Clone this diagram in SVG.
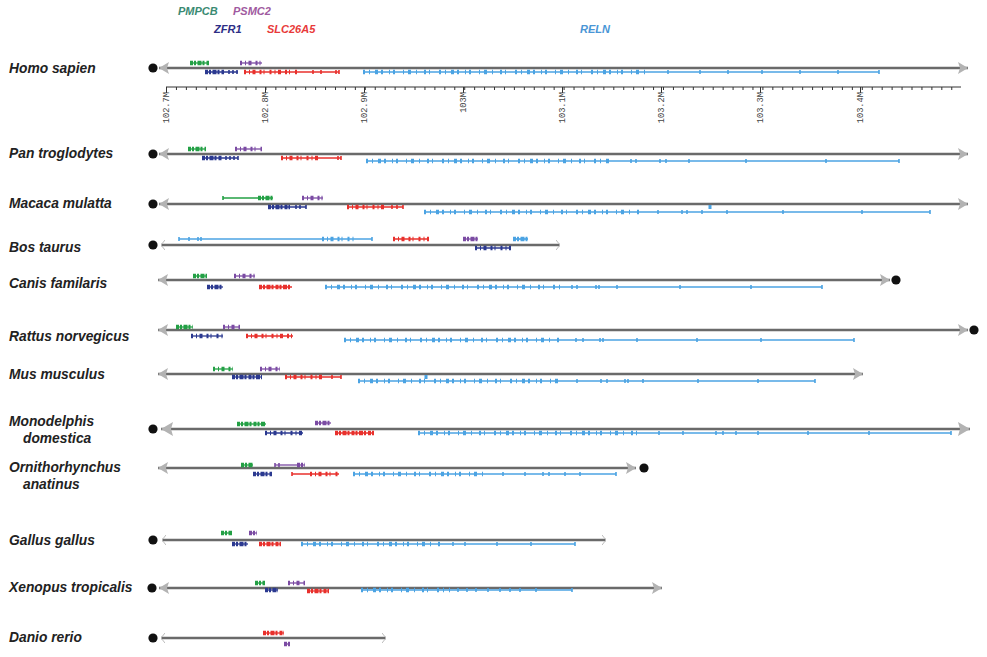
<svg xmlns="http://www.w3.org/2000/svg" width="987" height="657" viewBox="0 0 987 657">
<defs>
<marker id="ah" viewBox="0 0 10 12" refX="10" refY="6" markerWidth="10" markerHeight="12" markerUnits="userSpaceOnUse" orient="auto-start-reverse"><path d="M0,0 L10,6 L0,12 L2,6 Z" fill="#b3b3b3"/></marker>
<marker id="ahl" viewBox="0 0 12 14" refX="12" refY="7" markerWidth="12" markerHeight="14" markerUnits="userSpaceOnUse" orient="auto-start-reverse"><path d="M0,0 L12,7 L0,14 L2,7 Z" fill="#b3b3b3"/></marker>
<marker id="th" viewBox="0 0 4 10" refX="4" refY="5" markerWidth="4" markerHeight="10" markerUnits="userSpaceOnUse" orient="auto-start-reverse"><path d="M0,0 L4,5 L0,10" fill="none" stroke="#bbbbbb" stroke-width="1"/></marker>
<style>
.lab{font:italic bold 13.8px "Liberation Sans",Arial,sans-serif;fill:#222}
.leg{font:italic bold 11px "Liberation Sans",Arial,sans-serif}
.ax{font:8.7px "Liberation Mono","Courier New",monospace;fill:#444}
.chr{stroke:#6a6a6a;stroke-width:2.4;fill:none;marker-start:url(#ah);marker-end:url(#ah)}
.chl{stroke:#6a6a6a;stroke-width:2.6;fill:none;marker-start:url(#ahl);marker-end:url(#ahl)}
.cht{stroke:#6a6a6a;stroke-width:2.4;fill:none;marker-start:url(#th);marker-end:url(#th)}
.dot{fill:#111}
.in{stroke-width:1.3;fill:none}
.ex{stroke-width:4.4;fill:none}
.tk{stroke-width:1.6;fill:none}
.G{stroke:#23a045}.P{stroke:#7b4ba3}.N{stroke:#2b3990}.R{stroke:#e8302c}.B{stroke:#4ba3e3}
.in.B{stroke-width:1.7}
.pa{stroke-dasharray:3 1 2 1.5 4 1 2 2}
.pb{stroke-dasharray:2 3 1 2.5 3 4 2 2 1 5}
.pc{stroke-dasharray:2 4 1 5 3 3 2 6 1 3 2 8 1 4 3 5 1 7 2 3 1 9}
</style>
</defs>
<rect width="987" height="657" fill="#fff"/>

<g id="legend">
<text class="leg" x="178" y="15" fill="#3a8a72">PMPCB</text>
<text class="leg" x="233" y="15" fill="#a05aa0">PSMC2</text>
<text class="leg" x="214" y="33" fill="#2e2e86">ZFR1</text>
<text class="leg" x="267" y="33" fill="#e83a3a">SLC26A5</text>
<text class="leg" x="580" y="33" fill="#4a96d6">RELN</text>
</g>

<g id="axis">
<line x1="166" y1="87" x2="961" y2="87" stroke="#333" stroke-width="1"/>
<line x1="166" y1="88.5" x2="961" y2="88.5" stroke="#333" stroke-width="3" stroke-dasharray="1 8.94"/>
<path d="M166.5 87v6M265.5 87v6M364.5 87v6M463.5 87v6M562.5 87v6M661.5 87v6M760.5 87v6M860.5 87v6" stroke="#333" stroke-width="1"/>
<text class="ax" text-anchor="end" transform="translate(169,92) rotate(-90)">102.7M</text>
<text class="ax" text-anchor="end" transform="translate(268,92) rotate(-90)">102.8M</text>
<text class="ax" text-anchor="end" transform="translate(367,92) rotate(-90)">102.9M</text>
<text class="ax" text-anchor="end" transform="translate(466,92) rotate(-90)">103M</text>
<text class="ax" text-anchor="end" transform="translate(565,92) rotate(-90)">103.1M</text>
<text class="ax" text-anchor="end" transform="translate(664,92) rotate(-90)">103.2M</text>
<text class="ax" text-anchor="end" transform="translate(763,92) rotate(-90)">103.3M</text>
<text class="ax" text-anchor="end" transform="translate(863,92) rotate(-90)">103.4M</text>
</g>

<g id="homo">
<text class="lab" x="9" y="73">Homo sapien</text>
<circle class="dot" cx="153" cy="68" r="4.6"/>
<line class="chr" x1="159" y1="68" x2="968" y2="68"/>
<line class="in G" x1="190" y1="63" x2="209" y2="63"/><line class="ex G pa" x1="190" y1="63" x2="209" y2="63"/>
<line class="in P" x1="240" y1="63" x2="262" y2="63"/><line class="ex P pb" x1="240" y1="63" x2="262" y2="63"/>
<line class="in N" x1="205" y1="72" x2="238" y2="72"/><line class="ex N pa" x1="205" y1="72" x2="224" y2="72"/><path class="tk N" d="M229 70v4M233 70v4M237 70v4"/>
<line class="in R" x1="244" y1="72" x2="339" y2="72"/><line class="ex R pb" x1="244" y1="72" x2="300" y2="72"/><path class="tk R" d="M313 70v4M321 70v4M336 70v4M339 70v4"/>
<line class="in B" x1="363" y1="72" x2="879" y2="72"/><line class="ex B pc" x1="363" y1="72" x2="650" y2="72"/><path class="tk B" d="M668 70v4M700 70v4M728 70v4M762 70v4M800 70v4M838 70v4M879 70v4"/>
</g>

<g id="pan">
<text class="lab" x="9" y="158">Pan troglodytes</text>
<circle class="dot" cx="153" cy="154" r="4.6"/>
<line class="chr" x1="159" y1="154" x2="968" y2="154"/>
<line class="in G" x1="188" y1="149" x2="206" y2="149"/><line class="ex G pa" x1="188" y1="149" x2="206" y2="149"/>
<line class="in P" x1="235" y1="149" x2="262" y2="149"/><line class="ex P pb" x1="235" y1="149" x2="262" y2="149"/>
<line class="in N" x1="202" y1="158" x2="238" y2="158"/><line class="ex N pa" x1="202" y1="158" x2="222" y2="158"/><path class="tk N" d="M226 156v4M230 156v4M234 156v4M238 156v4"/>
<line class="in R" x1="281" y1="158" x2="341" y2="158"/><line class="ex R pb" x1="281" y1="158" x2="320" y2="158"/><path class="tk R" d="M338 156v4M341 156v4"/>
<line class="in B" x1="366" y1="161" x2="899" y2="161"/><line class="ex B pc" x1="366" y1="161" x2="610" y2="161"/><path class="tk B" d="M631 159v4M636 159v4M660 159v4M666 159v4M689 159v4M746 159v4M826 159v4M899 159v4"/>
</g>

<g id="macaca">
<text class="lab" x="9" y="208">Macaca mulatta</text>
<circle class="dot" cx="153" cy="204" r="4.6"/>
<line class="chr" x1="159" y1="204" x2="968" y2="204"/>
<line class="in G" x1="223" y1="198" x2="273" y2="198"/><path class="tk G" d="M223 196v4"/><line class="ex G pa" x1="258" y1="198" x2="273" y2="198"/>
<line class="in P" x1="302" y1="198" x2="323" y2="198"/><line class="ex P pb" x1="302" y1="198" x2="323" y2="198"/>
<line class="in N" x1="268" y1="207" x2="306" y2="207"/><line class="ex N pa" x1="268" y1="207" x2="290" y2="207"/><path class="tk N" d="M296 205v4M300 205v4M306 205v4"/>
<line class="in R" x1="347" y1="207" x2="403" y2="207"/><line class="ex R pb" x1="347" y1="207" x2="385" y2="207"/><path class="tk R" d="M392 205v4M397 205v4M403 205v4"/>
<line class="in B" x1="424" y1="212" x2="930" y2="212"/><line class="ex B pc" x1="424" y1="212" x2="640" y2="212"/><path class="tk B" d="M658 210v4M682 210v4M687 210v4M702 210v4M727 210v4M783 210v4M862 210v4M930 210v4"/>
<rect x="708.5" y="205" width="3" height="4" fill="#4ba3e3"/>
</g>

<g id="bos">
<text class="lab" x="9" y="252">Bos taurus</text>
<circle class="dot" cx="153" cy="245" r="4.6"/>
<line class="cht" x1="161" y1="245" x2="560" y2="245"/>
<line class="in B" x1="179" y1="239" x2="372" y2="239"/><path class="tk B" d="M179 237v4M189 237v4M198 237v4M201 237v4M372 237v4"/><line class="ex B pb" x1="322" y1="239" x2="356" y2="239"/>
<line class="in R" x1="393" y1="239" x2="429" y2="239"/><line class="ex R pb" x1="393" y1="239" x2="429" y2="239"/>
<line class="in P" x1="463" y1="239" x2="478" y2="239"/><line class="ex P pa" x1="463" y1="239" x2="478" y2="239"/>
<line class="in B" x1="513" y1="239" x2="528" y2="239"/><line class="ex B pa" x1="513" y1="239" x2="528" y2="239"/>
<line class="in N" x1="475" y1="248" x2="511" y2="248"/><line class="ex N pb" x1="475" y1="248" x2="511" y2="248"/>
</g>

<g id="canis">
<text class="lab" x="9" y="288">Canis familaris</text>
<circle class="dot" cx="896" cy="280" r="4.6"/>
<line class="chr" x1="158" y1="280" x2="890" y2="280"/>
<line class="in G" x1="193" y1="276" x2="207" y2="276"/><line class="ex G pa" x1="193" y1="276" x2="207" y2="276"/>
<line class="in P" x1="234" y1="276" x2="255" y2="276"/><line class="ex P pb" x1="234" y1="276" x2="255" y2="276"/>
<line class="in N" x1="207" y1="287" x2="223" y2="287"/><line class="ex N pa" x1="207" y1="287" x2="223" y2="287"/>
<line class="in R" x1="259" y1="287" x2="292" y2="287"/><line class="ex R pa" x1="259" y1="287" x2="292" y2="287"/>
<line class="in B" x1="325" y1="287" x2="822" y2="287"/><line class="ex B pc" x1="325" y1="287" x2="560" y2="287"/><path class="tk B" d="M572 285v4M577 285v4M596 285v4M599 285v4M617 285v4M680 285v4M751 285v4M822 285v4"/>
</g>

<g id="rattus">
<text class="lab" x="9" y="341">Rattus norvegicus</text>
<circle class="dot" cx="974" cy="330" r="4.6"/>
<line class="chr" x1="158" y1="330" x2="968" y2="330"/>
<line class="in G" x1="176" y1="327" x2="193" y2="327"/><line class="ex G pa" x1="176" y1="327" x2="193" y2="327"/>
<line class="in P" x1="223" y1="327" x2="240" y2="327"/><line class="ex P pb" x1="223" y1="327" x2="240" y2="327"/>
<line class="in N" x1="191" y1="336" x2="223" y2="336"/><line class="ex N pb" x1="191" y1="336" x2="223" y2="336"/>
<line class="in R" x1="246" y1="336" x2="293" y2="336"/><line class="ex R pb" x1="246" y1="336" x2="293" y2="336"/>
<line class="in B" x1="344" y1="340" x2="854" y2="340"/><line class="ex B pc" x1="344" y1="340" x2="560" y2="340"/><path class="tk B" d="M576 338v4M583 338v4M600 338v4M603 338v4M637 338v4M697 338v4M761 338v4M854 338v4"/>
</g>

<g id="mus">
<text class="lab" x="9" y="379">Mus musculus</text>
<line class="chr" x1="158" y1="374" x2="863" y2="374"/>
<line class="in G" x1="213" y1="369" x2="233" y2="369"/><line class="ex G pb" x1="213" y1="369" x2="233" y2="369"/>
<line class="in P" x1="260" y1="369" x2="280" y2="369"/><line class="ex P pb" x1="260" y1="369" x2="280" y2="369"/>
<line class="in N" x1="232" y1="377" x2="262" y2="377"/><line class="ex N pa" x1="232" y1="377" x2="262" y2="377"/>
<line class="in R" x1="285" y1="377" x2="341" y2="377"/><line class="ex R pb" x1="285" y1="377" x2="325" y2="377"/><path class="tk R" d="M332 375v4M341 375v4"/>
<line class="in B" x1="358" y1="381" x2="815" y2="381"/><line class="ex B pc" x1="358" y1="381" x2="560" y2="381"/><path class="tk B" d="M577 379v4M601 379v4M607 379v4M625 379v4M628 379v4M643 379v4M698 379v4M758 379v4M815 379v4"/>
<rect x="424.5" y="375" width="3" height="4" fill="#4ba3e3"/>
</g>

<g id="monodelphis">
<text class="lab" x="9" y="426">Monodelphis</text>
<text class="lab" x="23" y="443">domestica</text>
<circle class="dot" cx="153" cy="429" r="4.6"/>
<line class="chl" x1="161" y1="429" x2="970" y2="429"/>
<line class="in G" x1="237" y1="424" x2="266" y2="424"/><line class="ex G pa" x1="237" y1="424" x2="266" y2="424"/>
<line class="in P" x1="315" y1="423" x2="331" y2="423"/><line class="ex P pa" x1="315" y1="423" x2="331" y2="423"/>
<line class="in N" x1="265" y1="433" x2="303" y2="433"/><line class="ex N pb" x1="265" y1="433" x2="303" y2="433"/>
<line class="in R" x1="335" y1="433" x2="374" y2="433"/><line class="ex R pa" x1="335" y1="433" x2="374" y2="433"/>
<line class="in B" x1="418" y1="433" x2="951" y2="433"/><line class="ex B pc" x1="418" y1="433" x2="640" y2="433"/><path class="tk B" d="M659 431v4M683 431v4M716 431v4M723 431v4M736 431v4M758 431v4M808 431v4M869 431v4M951 431v4"/>
</g>

<g id="ornithorhynchus">
<text class="lab" x="9" y="472">Ornithorhynchus</text>
<text class="lab" x="23" y="489">anatinus</text>
<circle class="dot" cx="644" cy="468" r="4.6"/>
<line class="chr" x1="158" y1="468" x2="636" y2="468"/>
<line class="in G" x1="241" y1="465" x2="253" y2="465"/><line class="ex G pa" x1="241" y1="465" x2="253" y2="465"/>
<line class="in P" x1="275" y1="465" x2="305" y2="465"/><path class="tk P" d="M275 463v4M279 463v4"/><line class="ex P pa" x1="297" y1="465" x2="305" y2="465"/>
<line class="in N" x1="253" y1="474" x2="272" y2="474"/><line class="ex N pa" x1="253" y1="474" x2="272" y2="474"/>
<line class="in R" x1="292" y1="474" x2="339" y2="474"/><path class="tk R" d="M292 472v4"/><line class="ex R pb" x1="310" y1="474" x2="339" y2="474"/>
<line class="in B" x1="353" y1="474" x2="616" y2="474"/><line class="ex B pc" x1="353" y1="474" x2="490" y2="474"/><path class="tk B" d="M503 472v4M525 472v4M543 472v4M549 472v4M565 472v4M580 472v4M616 472v4"/>
</g>

<g id="gallus">
<text class="lab" x="9" y="545">Gallus gallus</text>
<circle class="dot" cx="153" cy="540" r="4.6"/>
<line class="cht" x1="162" y1="540" x2="606" y2="540"/>
<line class="in G" x1="221" y1="533" x2="232" y2="533"/><line class="ex G pa" x1="221" y1="533" x2="232" y2="533"/>
<line class="in P" x1="249" y1="533" x2="257" y2="533"/><line class="ex P pa" x1="249" y1="533" x2="257" y2="533"/>
<line class="in N" x1="232" y1="544" x2="248" y2="544"/><line class="ex N pa" x1="232" y1="544" x2="248" y2="544"/>
<line class="in R" x1="259" y1="544" x2="281" y2="544"/><line class="ex R pa" x1="259" y1="544" x2="281" y2="544"/>
<line class="in B" x1="301" y1="544" x2="575" y2="544"/><line class="ex B pc" x1="301" y1="544" x2="440" y2="544"/><path class="tk B" d="M453 542v4M465 542v4M497 542v4M531 542v4M575 542v4"/>
</g>

<g id="xenopus">
<text class="lab" x="9" y="592">Xenopus tropicalis</text>
<circle class="dot" cx="152" cy="588" r="4.6"/>
<line class="chr" x1="159" y1="588" x2="662" y2="588"/>
<line class="in G" x1="255" y1="583" x2="265" y2="583"/><line class="ex G pa" x1="255" y1="583" x2="265" y2="583"/>
<line class="in P" x1="288" y1="583" x2="305" y2="583"/><line class="ex P pb" x1="288" y1="583" x2="305" y2="583"/>
<line class="in N" x1="265" y1="590" x2="278" y2="590"/><line class="ex N pa" x1="265" y1="590" x2="278" y2="590"/>
<line class="in R" x1="307" y1="591" x2="329" y2="591"/><line class="ex R pa" x1="307" y1="591" x2="329" y2="591"/>
<line class="in B" x1="361" y1="590" x2="572" y2="590"/><line class="ex B pc" x1="361" y1="590" x2="450" y2="590"/><path class="tk B" d="M458 588v4M467 588v4M476 588v4M488 588v4M500 588v4M510 588v4M520 588v4M536 588v4M572 588v4"/>
</g>

<g id="danio">
<text class="lab" x="9" y="642">Danio rerio</text>
<circle class="dot" cx="153" cy="638" r="4.6"/>
<line class="cht" x1="161" y1="638" x2="386" y2="638"/>
<line class="in R" x1="263" y1="633" x2="284" y2="633"/><line class="ex R pa" x1="263" y1="633" x2="284" y2="633"/>
<line class="in P" x1="284" y1="644" x2="290" y2="644"/><line class="ex P pa" x1="284" y1="644" x2="290" y2="644"/>
</g>
</svg>
